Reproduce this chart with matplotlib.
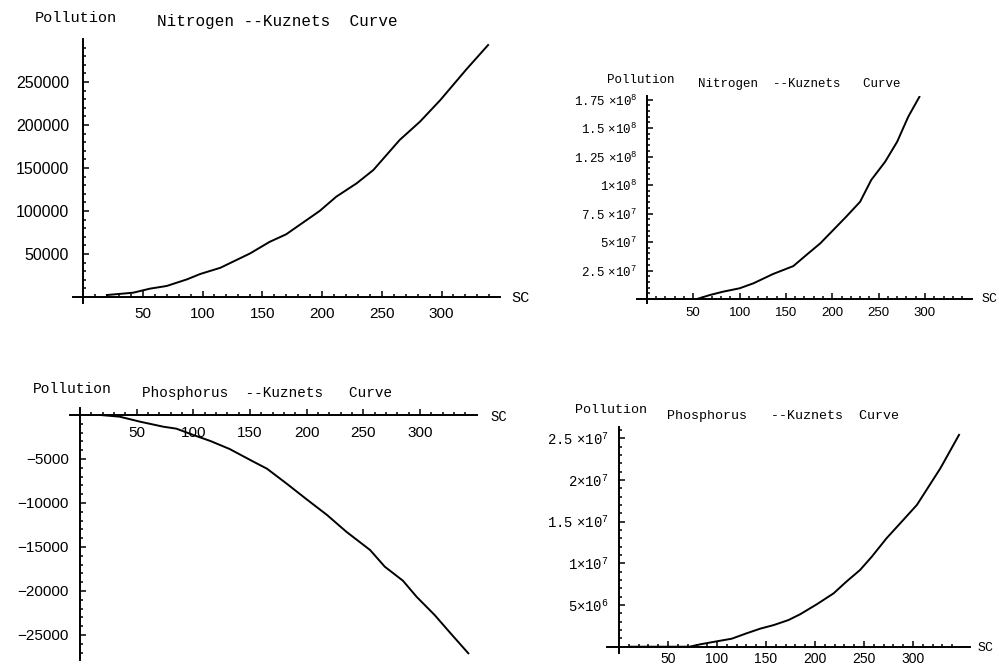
import matplotlib
matplotlib.use('Agg')
import matplotlib.pyplot as plt
import numpy as np

W, H = 999, 666

# ---------------- data ----------------
# Top-left: Nitrogen (linear scale)
n1_sc = [20, 42, 56, 70, 87, 98, 115, 140, 156, 170, 198, 212, 229, 243, 265, 282, 299, 321, 339]
n1_poll = [2300, 5000, 9700, 12800, 20500, 26700, 34000, 50800, 64000, 72900, 100000,
           116700, 132200, 147700, 182600, 203900, 229000, 265000, 293000]

# Top-right: Nitrogen (large values)
n2_sc = [2, 54, 68, 82, 100, 115, 136, 158, 172, 187, 201, 215, 230, 242, 257, 270, 282, 294]
n2_poll = [0, 0, 3.5e6, 6.4e6, 9.4e6, 13.8e6, 21.9e6, 28.9e6, 38.6e6, 48.8e6, 60.5e6,
           72.2e6, 85.3e6, 104.4e6, 120.4e6, 138e6, 160e6, 177.4e6]

# Bottom-left: Phosphorus (negative)
p1_sc = [18, 35, 53, 73.5, 85, 100, 115, 132, 153, 165, 182, 200, 218, 235, 256, 269,
         285, 297, 313, 327, 342.7]
p1_poll = [0, -190, -760, -1330, -1550, -2270, -2950, -3860, -5300, -6100, -7760, -9580,
           -11360, -13260, -15340, -17240, -18830, -20650, -22730, -24800, -27080]

# Bottom-right: Phosphorus (large values)
p2_sc = [11, 72, 83, 100, 115, 130, 144, 158, 173, 185, 202, 219, 232, 246, 258, 273,
         287, 304, 316, 328, 347]
p2_poll = [0, 0, 0.29e6, 0.65e6, 0.96e6, 1.6e6, 2.16e6, 2.6e6, 3.2e6, 3.9e6, 5.1e6, 6.4e6,
           7.8e6, 9.2e6, 10.8e6, 13.0e6, 14.8e6, 17.0e6, 19.2e6, 21.4e6, 25.4e6]

x_ticks = [50, 100, 150, 200, 250, 300]
x_labels = ['50', '100', '150', '200', '250', '300']

tl_y_ticks = [50000, 100000, 150000, 200000, 250000]
tl_y_labels = ['50000', '100000', '150000', '200000', '250000']

tr_y_ticks = [2.5e7, 5e7, 7.5e7, 1e8, 1.25e8, 1.5e8, 1.75e8]
tr_y_labels = [r'$\mathregular{2.5\ ×10^{7}}$', r'$\mathregular{5×10^{7}}$',
               r'$\mathregular{7.5\ ×10^{7}}$', r'$\mathregular{1×10^{8}}$',
               r'$\mathregular{1.25\ ×10^{8}}$', r'$\mathregular{1.5\ ×10^{8}}$',
               r'$\mathregular{1.75\ ×10^{8}}$']

bl_y_ticks = [-5000, -10000, -15000, -20000, -25000]
bl_y_labels = ['\u22125000', '\u221210000', '\u221215000', '\u221220000', '\u221225000']

br_y_ticks = [5e6, 1e7, 1.5e7, 2e7, 2.5e7]
br_y_labels = [r'$\mathregular{5×10^{6}}$', r'$\mathregular{1×10^{7}}$',
               r'$\mathregular{1.5\ ×10^{7}}$', r'$\mathregular{2×10^{7}}$',
               r'$\mathregular{2.5\ ×10^{7}}$']

MONO = 'Liberation Mono'
SANS = 'Liberation Sans'

fig = plt.figure(figsize=(W / 100, H / 100), dpi=100)


def make_axes(box, xlim, ylim):
    l, r, t, b = box
    ax = fig.add_axes([l / W, 1 - b / H, (r - l) / W, (b - t) / H])
    ax.set_xlim(*xlim)
    ax.set_ylim(*ylim)
    ax.patch.set_visible(False)
    for s in ['top', 'right']:
        ax.spines[s].set_visible(False)
    ax.spines['left'].set_position(('data', 0))
    ax.spines['bottom'].set_position(('data', 0))
    for s in ['left', 'bottom']:
        ax.spines[s].set_linewidth(1.4)
    ax.tick_params(which='both', direction='in', color='black', width=1.1)
    ax.tick_params(which='major', length=4)
    ax.tick_params(which='minor', length=2)
    return ax


def ftext(px, py, s, **kw):
    fig.text(px / W, 1 - py / H, s, **kw)


x_minor = [v for v in np.arange(10, 350, 10) if v % 50 != 0]

# ---------------- top-left ----------------
ax = make_axes((73, 500, 39, 303), (-8.37, 348.95), (-6977, 300000))
ax.plot(n1_sc, n1_poll, color='black', lw=1.4)
ax.set_xticks(x_ticks, labels=x_labels, fontfamily=SANS, fontsize=11)
ax.set_xticks(x_minor, minor=True)
ax.set_yticks(tl_y_ticks, labels=tl_y_labels, fontfamily=SANS, fontsize=11.5)
ax.set_yticks([v for v in np.arange(10000, 300000, 10000) if v % 50000 != 0], minor=True)
ax.tick_params(axis='x', pad=7)
ax.tick_params(axis='y', pad=10)
ftext(35, 21.7, 'Pollution', family=MONO, fontsize=11, va='baseline')
ftext(157, 26, 'Nitrogen --Kuznets  Curve', family=MONO, fontsize=11.5, va='baseline')
ftext(511, 297.5, 'SC', family=MONO, fontsize=11, va='center')

# ---------------- top-right ----------------
ax = make_axes((636.7, 971.7, 96, 303), (-11.0, 350.4), (-3.5e6, 1.781e8))
ax.plot(n2_sc, n2_poll, color='black', lw=1.4)
ax.set_xticks(x_ticks, labels=x_labels, fontfamily=SANS, fontsize=9.5)
ax.set_xticks(x_minor, minor=True)
ax.set_yticks(tr_y_ticks, labels=tr_y_labels, fontfamily=MONO, fontsize=9)
ax.set_yticks([v for v in np.arange(5e6, 1.8e8, 5e6) if round(v / 5e6) % 5 != 0], minor=True)
ax.tick_params(axis='x', pad=6)
ax.tick_params(axis='y', pad=7)
ftext(607, 83.3, 'Pollution', family=MONO, fontsize=9, va='baseline')
ftext(698, 87.3, 'Nitrogen  --Kuznets   Curve', family=MONO, fontsize=9, va='baseline')
ftext(982, 299, 'SC', family=MONO, fontsize=9.5, va='center')

# ---------------- bottom-left ----------------
ax = make_axes((70, 476.7, 408, 660), (-8.8, 350.1), (-27841, 795))
ax.plot(p1_sc, p1_poll, color='black', lw=1.4)
ax.set_xticks(x_ticks, labels=x_labels, fontfamily=SANS, fontsize=11)
ax.set_xticks(x_minor, minor=True)
ax.set_yticks(bl_y_ticks, labels=bl_y_labels, fontfamily=SANS, fontsize=11)
ax.set_yticks([v for v in np.arange(-1000, -28000, -1000) if v % 5000 != 0], minor=True)
ax.tick_params(axis='x', pad=8)
ax.tick_params(axis='y', pad=8)
ftext(33, 393.3, 'Pollution', family=MONO, fontsize=10.5, va='baseline')
ftext(141.7, 396.7, 'Phosphorus  --Kuznets   Curve', family=MONO, fontsize=10.4, va='baseline')
ftext(490, 416.7, 'SC', family=MONO, fontsize=10, va='center')

# ---------------- bottom-right ----------------
ax = make_axes((606.7, 970, 426.7, 653.3), (-12.6, 358.2), (-0.79e6, 2.638e7))
ax.plot(p2_sc, p2_poll, color='black', lw=1.4)
ax.set_xticks(x_ticks, labels=x_labels, fontfamily=SANS, fontsize=10)
ax.set_xticks(x_minor, minor=True)
ax.set_yticks(br_y_ticks, labels=br_y_labels, fontfamily=MONO, fontsize=10)
ax.set_yticks([v for v in np.arange(1e6, 2.7e7, 1e6) if round(v / 1e6) % 5 != 0], minor=True)
ax.tick_params(axis='x', pad=3.5)
ax.tick_params(axis='y', pad=7.5)
ftext(575, 413.3, 'Pollution', family=MONO, fontsize=9.6, va='baseline')
ftext(666.7, 419.3, 'Phosphorus   --Kuznets  Curve', family=MONO, fontsize=9.6, va='baseline')
ftext(978, 648, 'SC', family=MONO, fontsize=9.5, va='center')

fig.savefig('out.png', dpi=100)
